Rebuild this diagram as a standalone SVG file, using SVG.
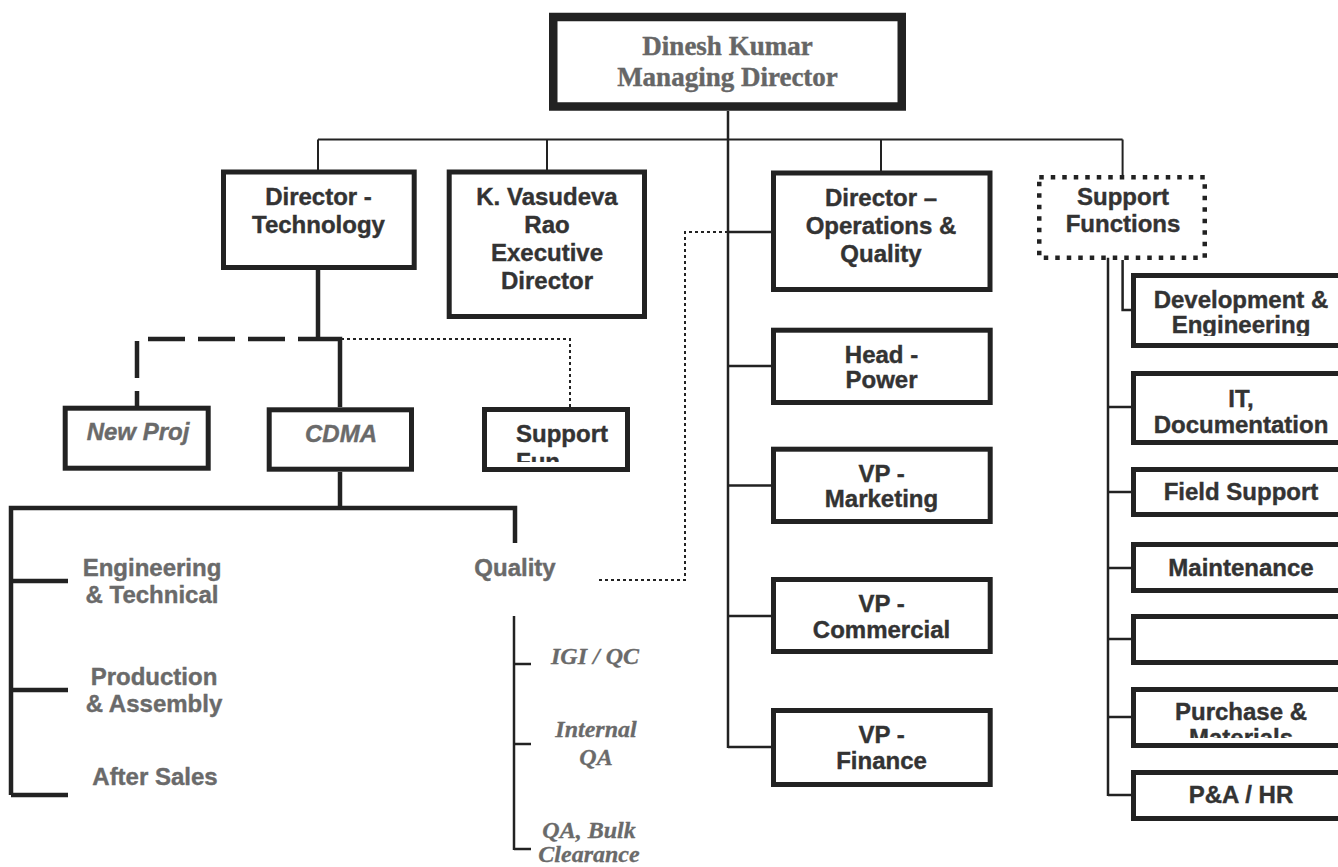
<svg xmlns="http://www.w3.org/2000/svg" width="1338" height="867" viewBox="0 0 1338 867">
<style>
  .box{fill:#fff;stroke:#222;stroke-width:5}
  .top{fill:#fff;stroke:#222;stroke-width:8.5}
  .dotbox{fill:#fff;stroke:#222;stroke-width:4.5;stroke-dasharray:4.5 7}
  .ln{fill:none;stroke:#222;stroke-width:2.5}
  .thin{fill:none;stroke:#222;stroke-width:2}
  .thick{fill:none;stroke:#222;stroke-width:4.5}
  .dash{fill:none;stroke:#222;stroke-width:4.5;stroke-dasharray:37 13;stroke-dashoffset:17}
  .dot{fill:none;stroke:#222;stroke-width:2;stroke-dasharray:3 3}
  .t{font-family:"Liberation Sans",Arial,sans-serif;font-weight:bold;font-size:24px;fill:#333;stroke:#333;stroke-width:0.4;text-anchor:middle}
  .g{font-family:"Liberation Sans",Arial,sans-serif;font-weight:bold;font-size:24px;fill:#6a6a6a;stroke:#6a6a6a;stroke-width:0.4;text-anchor:middle}
  .gi{font-family:"Liberation Sans",Arial,sans-serif;font-weight:bold;font-style:italic;font-size:24px;fill:#6a6a6a;stroke:#6a6a6a;stroke-width:0.4;text-anchor:middle}
  .s{font-family:"Liberation Serif","Times New Roman",serif;font-weight:bold;font-size:27px;fill:#666;stroke:#666;stroke-width:0.4;text-anchor:middle}
  .si{font-family:"Liberation Serif","Times New Roman",serif;font-weight:bold;font-style:italic;font-size:24px;fill:#6a6a6a;stroke:#6a6a6a;stroke-width:0.3;text-anchor:middle}
</style>
<defs>
  <clipPath id="clipSF"><rect x="487" y="412" width="138" height="50"/></clipPath>
  <clipPath id="clipDev"><rect x="1136" y="278" width="210" height="58"/></clipPath>
  <clipPath id="clipPur"><rect x="1136" y="692" width="210" height="46"/></clipPath>
</defs>
<rect width="1338" height="867" fill="#fff"/>

<g id="connectors">
  <line class="ln" x1="728" y1="111" x2="728" y2="748"/>
  <line class="thin" x1="318" y1="139.5" x2="1122.6" y2="139.5"/>
  <line class="thin" x1="318" y1="139.5" x2="318" y2="170"/>
  <line class="thin" x1="547" y1="139.5" x2="547" y2="170"/>
  <line class="thin" x1="881" y1="139.5" x2="881" y2="171"/>
  <line class="thin" x1="1122.6" y1="139.5" x2="1122.6" y2="175"/>
  <line class="ln" x1="728" y1="232" x2="771" y2="232"/>
  <line class="ln" x1="728" y1="366" x2="771" y2="366"/>
  <line class="ln" x1="728" y1="485.5" x2="771" y2="485.5"/>
  <line class="ln" x1="728" y1="616" x2="771" y2="616"/>
  <line class="ln" x1="728" y1="747" x2="771" y2="747"/>
  <polyline class="dot" points="728,232 685,232 685,580 597,580"/>
  <line class="thick" x1="318" y1="270" x2="318" y2="339"/>
  <polyline class="thick" points="318,339 340,339 340,407"/>
  <polyline class="dash" points="318,339 137,339 137,406"/>
  <polyline class="dot" points="341,339 570,339 570,407"/>
  <line class="thick" x1="340" y1="472" x2="340" y2="508"/>
  <polyline class="thick" points="11,795 11,508 515,508 515,543"/>
  <line class="thick" x1="11" y1="581" x2="68" y2="581"/>
  <line class="thick" x1="11" y1="690" x2="68" y2="690"/>
  <line class="thick" x1="11" y1="795" x2="68" y2="795"/>
  <line class="ln" x1="514" y1="616" x2="514" y2="850"/>
  <line class="ln" x1="514" y1="664" x2="531" y2="664"/>
  <line class="ln" x1="514" y1="744" x2="531" y2="744"/>
  <line class="ln" x1="514" y1="849" x2="531" y2="849"/>
  <line class="ln" x1="1108" y1="237" x2="1108" y2="796"/>
  <line class="ln" x1="1108" y1="407" x2="1131" y2="407"/>
  <line class="ln" x1="1108" y1="492" x2="1131" y2="492"/>
  <line class="ln" x1="1108" y1="568" x2="1131" y2="568"/>
  <line class="ln" x1="1108" y1="639" x2="1131" y2="639"/>
  <line class="ln" x1="1108" y1="717" x2="1131" y2="717"/>
  <line class="ln" x1="1108" y1="795" x2="1131" y2="795"/>
  <polyline class="ln" points="1122.6,260 1122.6,310 1132,310"/>
</g>

<g id="md">
  <rect class="top" x="553.25" y="17" width="348.5" height="89.5"/>
  <text class="s" x="727.5" y="55">Dinesh Kumar</text>
  <text class="s" x="727.5" y="86">Managing Director</text>
</g>

<g id="dir-tech">
  <rect class="box" x="223.5" y="172" width="190.7" height="95.5"/>
  <text class="t" x="318.5" y="205">Director -</text>
  <text class="t" x="318.5" y="233">Technology</text>
</g>

<g id="exec-dir">
  <rect class="box" x="449.2" y="172" width="195.3" height="144.5"/>
  <text class="t" x="547" y="205">K. Vasudeva</text>
  <text class="t" x="547" y="233">Rao</text>
  <text class="t" x="547" y="261">Executive</text>
  <text class="t" x="547" y="289">Director</text>
</g>

<g id="dir-ops">
  <rect class="box" x="773.5" y="173" width="216.5" height="116.5"/>
  <text class="t" x="881" y="206">Director –</text>
  <text class="t" x="881" y="234">Operations &amp;</text>
  <text class="t" x="881" y="262">Quality</text>
</g>

<g id="support-functions">
  <rect class="dotbox" x="1039.25" y="177.25" width="165.5" height="80.5"/>
  <text class="t" x="1123" y="205">Support</text>
  <text class="t" x="1123" y="232">Functions</text>
</g>

<g id="head-power">
  <rect class="box" x="773.5" y="330.2" width="216.7" height="72.3"/>
  <text class="t" x="881.5" y="363">Head -</text>
  <text class="t" x="881.5" y="388">Power</text>
</g>

<g id="vp-marketing">
  <rect class="box" x="773.5" y="449.2" width="216.7" height="72.3"/>
  <text class="t" x="881.5" y="481.5">VP -</text>
  <text class="t" x="881.5" y="507">Marketing</text>
</g>

<g id="vp-commercial">
  <rect class="box" x="773.5" y="579.5" width="216.7" height="72"/>
  <text class="t" x="881.5" y="612">VP -</text>
  <text class="t" x="881.5" y="638">Commercial</text>
</g>

<g id="vp-finance">
  <rect class="box" x="773.5" y="710.5" width="216.7" height="74"/>
  <text class="t" x="881.5" y="743">VP -</text>
  <text class="t" x="881.5" y="769">Finance</text>
</g>

<g id="new-proj">
  <rect class="box" x="65.2" y="408.2" width="143" height="60"/>
  <text class="gi" x="138" y="440">New Proj</text>
</g>

<g id="cdma">
  <rect class="box" x="269.2" y="409.8" width="142.3" height="59.4"/>
  <text class="gi" x="341" y="442">CDMA</text>
</g>

<g id="support-fun">
  <rect class="box" x="484.5" y="409.5" width="143" height="60"/>
  <g clip-path="url(#clipSF)">
    <text class="t" x="516" y="442" style="text-anchor:start">Support</text>
    <text class="t" x="516" y="470" style="text-anchor:start">Fun</text>
  </g>
</g>

<g id="eng-tech">
  <text class="g" x="152" y="576">Engineering</text>
  <text class="g" x="152" y="603">&amp; Technical</text>
</g>
<g id="production">
  <text class="g" x="154" y="685">Production</text>
  <text class="g" x="154" y="712">&amp; Assembly</text>
</g>
<g id="after-sales">
  <text class="g" x="155" y="785">After Sales</text>
</g>
<g id="quality">
  <text class="g" x="515" y="576">Quality</text>
</g>
<g id="igi-qc">
  <text class="si" x="595" y="664">IGI / QC</text>
</g>
<g id="internal-qa">
  <text class="si" x="596" y="737">Internal</text>
  <text class="si" x="596" y="765">QA</text>
</g>
<g id="qa-bulk">
  <text class="si" x="589" y="838">QA, Bulk</text>
  <text class="si" x="589" y="862">Clearance</text>
</g>

<g id="dev-eng">
  <rect class="box" x="1133.5" y="275.5" width="220" height="70"/>
  <g clip-path="url(#clipDev)">
    <text class="t" x="1241" y="308">Development &amp;</text>
    <text class="t" x="1241" y="333">Engineering</text>
  </g>
</g>
<g id="it-doc">
  <rect class="box" x="1133.5" y="373.5" width="220" height="69"/>
  <text class="t" x="1241" y="407">IT,</text>
  <text class="t" x="1241" y="433">Documentation</text>
</g>
<g id="field-support">
  <rect class="box" x="1133.5" y="469.5" width="220" height="45"/>
  <text class="t" x="1241" y="500">Field Support</text>
</g>
<g id="maintenance">
  <rect class="box" x="1133.5" y="544.5" width="220" height="46"/>
  <text class="t" x="1241" y="576">Maintenance</text>
</g>
<g id="empty-box">
  <rect class="box" x="1133.5" y="616.5" width="220" height="46"/>
</g>
<g id="purchase">
  <rect class="box" x="1133.5" y="689.5" width="220" height="56"/>
  <g clip-path="url(#clipPur)">
    <text class="t" x="1241" y="720">Purchase &amp;</text>
    <text class="t" x="1241" y="746">Materials</text>
  </g>
</g>
<g id="pa-hr">
  <rect class="box" x="1133.5" y="772.5" width="220" height="46"/>
  <text class="t" x="1241" y="803">P&amp;A / HR</text>
</g>
</svg>
